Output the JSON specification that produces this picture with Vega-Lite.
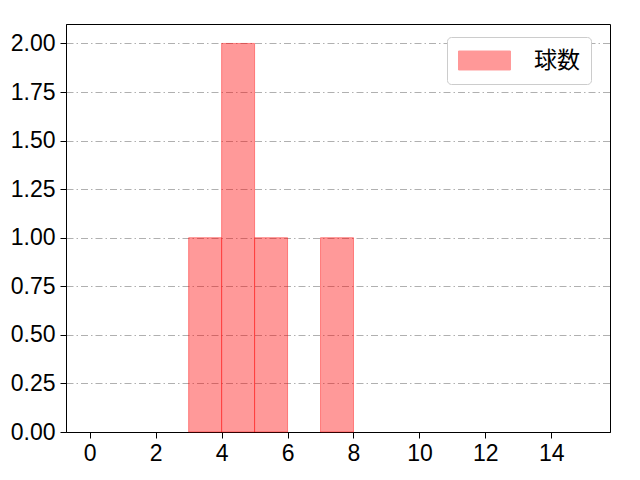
{
  "$schema": "https://vega.github.io/schema/vega-lite/v6.json",
  "width": 544,
  "height": 408,
  "autosize": "none",
  "padding": {"left": 66, "top": 24, "right": 30, "bottom": 48},
  "background": "white",
  "config": {
    "font": "Liberation Sans",
    "view": {"stroke": "black", "strokeWidth": 1},
    "axis": {
      "labelFont": "Liberation Sans",
      "labelFontSize": 23,
      "labelColor": "black",
      "domainColor": "black",
      "tickColor": "black",
      "tickSize": 6,
      "labelPadding": 4,
      "title": null
    }
  },
  "data": {
    "values": [
      {"bin_start": 3, "bin_end": 4, "count": 1, "series": "球数"},
      {"bin_start": 4, "bin_end": 5, "count": 2, "series": "球数"},
      {"bin_start": 5, "bin_end": 6, "count": 1, "series": "球数"},
      {"bin_start": 7, "bin_end": 8, "count": 1, "series": "球数"}
    ]
  },
  "mark": {
    "type": "rect",
    "fillOpacity": 0.4,
    "stroke": "#ff0000",
    "strokeOpacity": 0.4,
    "strokeWidth": 1
  },
  "encoding": {
    "x": {
      "field": "bin_start",
      "type": "quantitative",
      "scale": {"domain": [-0.72, 15.78], "nice": false, "zero": false},
      "axis": {"values": [0, 2, 4, 6, 8, 10, 12, 14], "grid": false, "format": "d"}
    },
    "x2": {"field": "bin_end"},
    "y": {
      "field": "count",
      "type": "quantitative",
      "scale": {"domain": [0, 2.1], "nice": false},
      "axis": {
        "values": [0, 0.25, 0.5, 0.75, 1, 1.25, 1.5, 1.75, 2],
        "format": ".2f",
        "labelPadding": 5,
        "grid": true,
        "gridColor": "#b0b0b0",
        "gridDash": [7, 3, 1.5, 3],
        "gridWidth": 1
      }
    },
    "color": {
      "field": "series",
      "type": "nominal",
      "scale": {"range": ["#ff0000"]},
      "legend": {
        "title": null,
        "orient": "none",
        "legendX": 381,
        "legendY": 13,
        "symbolType": "M-1,-0.79H3.33V0.79H-1Z",
        "symbolSize": 576,
        "symbolOpacity": 0.4,
        "symbolStrokeWidth": 1,
        "labelFont": "Noto Sans CJK JP",
        "labelFontSize": 23,
        "labelColor": "black",
        "labelOffset": 51,
        "labelExpr": "datum.label + ' '",
        "padding": 11,
        "fillColor": "white",
        "strokeColor": "#cccccc",
        "cornerRadius": 4
      }
    }
  }
}
